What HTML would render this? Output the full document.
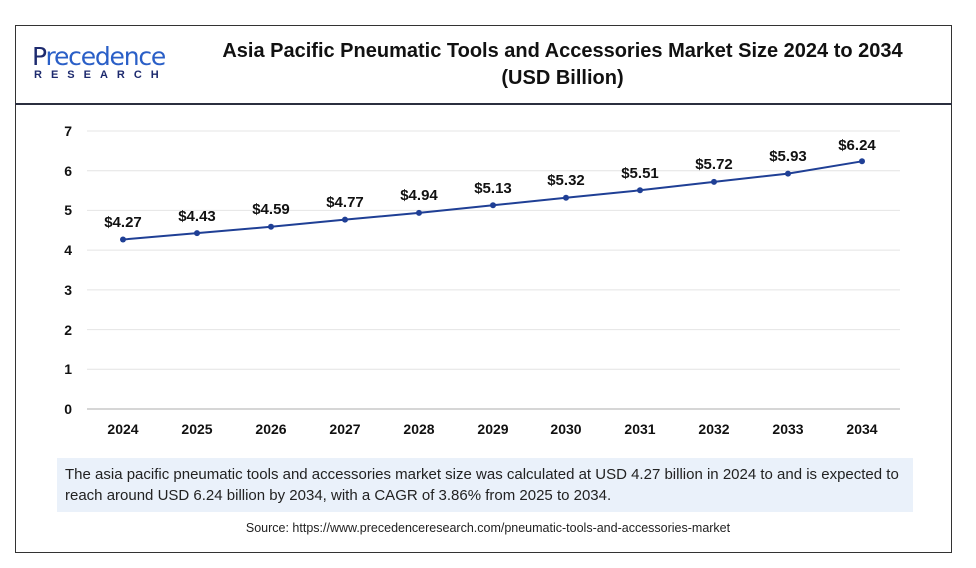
<!DOCTYPE html>
<html><head><meta charset="utf-8"><style>
body{margin:0;background:#fff;width:976px;height:568px;overflow:hidden;font-family:"Liberation Sans",sans-serif;}
.frame{position:absolute;left:15px;top:25px;width:935px;height:526px;border:1.5px solid #333;}
.hdr{position:absolute;left:15px;top:103px;width:937px;height:2px;background:#2b2f3f;}
.title{position:absolute;left:190px;top:38px;width:745px;text-align:center;font-weight:bold;font-size:20px;line-height:27px;color:#111;white-space:nowrap}
.logo1{position:absolute;left:32px;top:42px;font-size:25px;color:#1d2a6e;font-family:"DejaVu Sans",sans-serif;letter-spacing:-1.2px}
.logo1 span{color:#2a5fc7}
.logo2{position:absolute;left:34px;top:69px;font-size:11px;font-weight:bold;color:#1d2a6e;letter-spacing:9px}
.note{position:absolute;left:57px;top:458px;width:840px;height:42px;background:#eaf1fa;padding:6px 8px 6px 8px;font-size:15px;line-height:21px;color:#222;white-space:nowrap}
.src{position:absolute;left:0;width:976px;top:521px;text-align:center;font-size:12.5px;color:#222}
</style></head><body>
<div class="frame"></div><div class="hdr"></div>
<div class="logo1">P<span>recedence</span></div>
<div class="logo2">RESEARCH</div>
<div class="title">Asia Pacific Pneumatic Tools and Accessories Market Size 2024 to 2034<br>(USD Billion)</div>
<svg width="976" height="568" style="position:absolute;left:0;top:0" font-family="Liberation Sans,sans-serif">
<g stroke="#e4e4e4" stroke-width="1">
<line x1="87" x2="900" y1="131" y2="131"/><line x1="87" x2="900" y1="170.7" y2="170.7"/><line x1="87" x2="900" y1="210.4" y2="210.4"/><line x1="87" x2="900" y1="250.1" y2="250.1"/><line x1="87" x2="900" y1="289.9" y2="289.9"/><line x1="87" x2="900" y1="329.6" y2="329.6"/><line x1="87" x2="900" y1="369.3" y2="369.3"/>
</g>
<line x1="87" x2="900" y1="409" y2="409" stroke="#c8c8c8" stroke-width="1.5"/>
<g font-size="14" font-weight="bold" fill="#111" text-anchor="end">
<text x="72" y="136">7</text><text x="72" y="176">6</text><text x="72" y="215">5</text><text x="72" y="255">4</text><text x="72" y="295">3</text><text x="72" y="335">2</text><text x="72" y="374">1</text><text x="72" y="414">0</text>
</g>
<g font-size="14" font-weight="bold" fill="#111" text-anchor="middle">
<text x="123" y="434">2024</text><text x="197" y="434">2025</text><text x="271" y="434">2026</text><text x="345" y="434">2027</text><text x="419" y="434">2028</text><text x="493" y="434">2029</text><text x="566" y="434">2030</text><text x="640" y="434">2031</text><text x="714" y="434">2032</text><text x="788" y="434">2033</text><text x="862" y="434">2034</text>
</g>
<polyline fill="none" stroke="#1f3f95" stroke-width="2" points="123,239.5 197,233.1 271,226.8 345,219.6 419,212.9 493,205.3 566,197.8 640,190.3 714,181.9 788,173.6 862,161.3"/>
<g fill="#1f3f95">
<circle cx="123" cy="239.5" r="3"/><circle cx="197" cy="233.1" r="3"/><circle cx="271" cy="226.8" r="3"/><circle cx="345" cy="219.6" r="3"/><circle cx="419" cy="212.9" r="3"/><circle cx="493" cy="205.3" r="3"/><circle cx="566" cy="197.8" r="3"/><circle cx="640" cy="190.3" r="3"/><circle cx="714" cy="181.9" r="3"/><circle cx="788" cy="173.6" r="3"/><circle cx="862" cy="161.3" r="3"/>
</g>
<g font-size="15" font-weight="bold" fill="#111" text-anchor="middle">
<text x="123" y="227">$4.27</text><text x="197" y="221">$4.43</text><text x="271" y="214">$4.59</text><text x="345" y="207">$4.77</text><text x="419" y="200">$4.94</text><text x="493" y="193">$5.13</text><text x="566" y="185">$5.32</text><text x="640" y="178">$5.51</text><text x="714" y="169">$5.72</text><text x="788" y="161">$5.93</text><text x="857" y="150">$6.24</text>
</g>
</svg>
<div class="note">The asia pacific pneumatic tools and accessories market size was calculated at USD 4.27 billion in 2024 to and is expected to<br>reach around USD 6.24 billion by 2034, with a CAGR of 3.86% from 2025 to 2034.</div>
<div class="src">Source: https://www.precedenceresearch.com/pneumatic-tools-and-accessories-market</div>
</body></html>
